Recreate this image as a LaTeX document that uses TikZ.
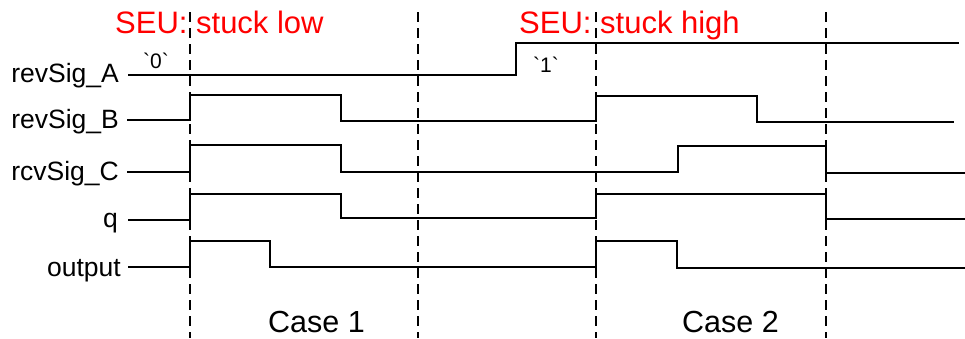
\documentclass[tikz,border=0pt]{standalone}
\usepackage{fontspec}
\setmainfont{Liberation Sans}
\begin{document}
\begin{tikzpicture}[x=1pt,y=-1pt,
  wave/.style={line width=2.3pt,line join=miter},
  guide/.style={line width=2.2pt,dash pattern=on 10pt off 6pt},
  siglabel/.style={anchor=base east,inner sep=0pt,font=\fontsize{26.5}{31}\selectfont},
  seu/.style={anchor=base west,inner sep=0pt,text=red,font=\fontsize{31}{37}\selectfont},
  caselabel/.style={anchor=base west,inner sep=0pt,font=\fontsize{30.5}{36}\selectfont},
  val/.style={anchor=base west,inner sep=0pt,font=\fontsize{21}{25}\selectfont}]
\useasboundingbox (0,0) rectangle (965,338);
% dashed guides
\foreach \x/\n in {190/g1,418/g2,596/g3,826/g4}{
  \coordinate (\n t) at (\x,12);
  \coordinate (\n b) at (\x,338);
  \draw[guide] (\n t) -- (\n b);
}
% labels
\node[siglabel] (lA) at (119,82) {revSig\_A};
\node[siglabel] (lB) at (119,128) {revSig\_B};
\node[siglabel] (lC) at (119,180) {rcvSig\_C};
\node[siglabel] (lq) at (118,227) {q};
\node[siglabel] (lo) at (121,276) {output};
% red annotations
\node[seu] (s1) at (115,33) {SEU: stuck low};
\node[seu] (s2) at (519,33) {SEU: stuck high};
\node[caselabel] (c1) at (268,332) {Case 1};
\node[caselabel] (c2) at (682,332) {Case 2};
\node[val] (v0) at (143,68) {\textasciigrave0\textasciigrave};
\node[val] (v1) at (533,72) {\textasciigrave1\textasciigrave};
% waveforms
\draw[wave] (128,75) -- (516,75) -- (516,43) -- (959,43);
\draw[wave] (127,120) -- (190,120) -- (190,95) -- (341,95) -- (341,121) -- (596,121) -- (596,96) -- (757,96) -- (757,122) -- (954,122);
\draw[wave] (127,172) -- (190,172) -- (190,145) -- (341,145) -- (341,172) -- (678,172) -- (678,146) -- (826,146) -- (826,173) -- (965,173);
\draw[wave] (128,220) -- (190,220) -- (190,194) -- (341,194) -- (341,218) -- (596,218) -- (596,194) -- (826,194) -- (826,219) -- (965,219);
\draw[wave] (128,267) -- (190,267) -- (190,241) -- (270,241) -- (270,267) -- (596,267) -- (596,241) -- (677,241) -- (677,268) -- (965,268);
\end{tikzpicture}
\end{document}
